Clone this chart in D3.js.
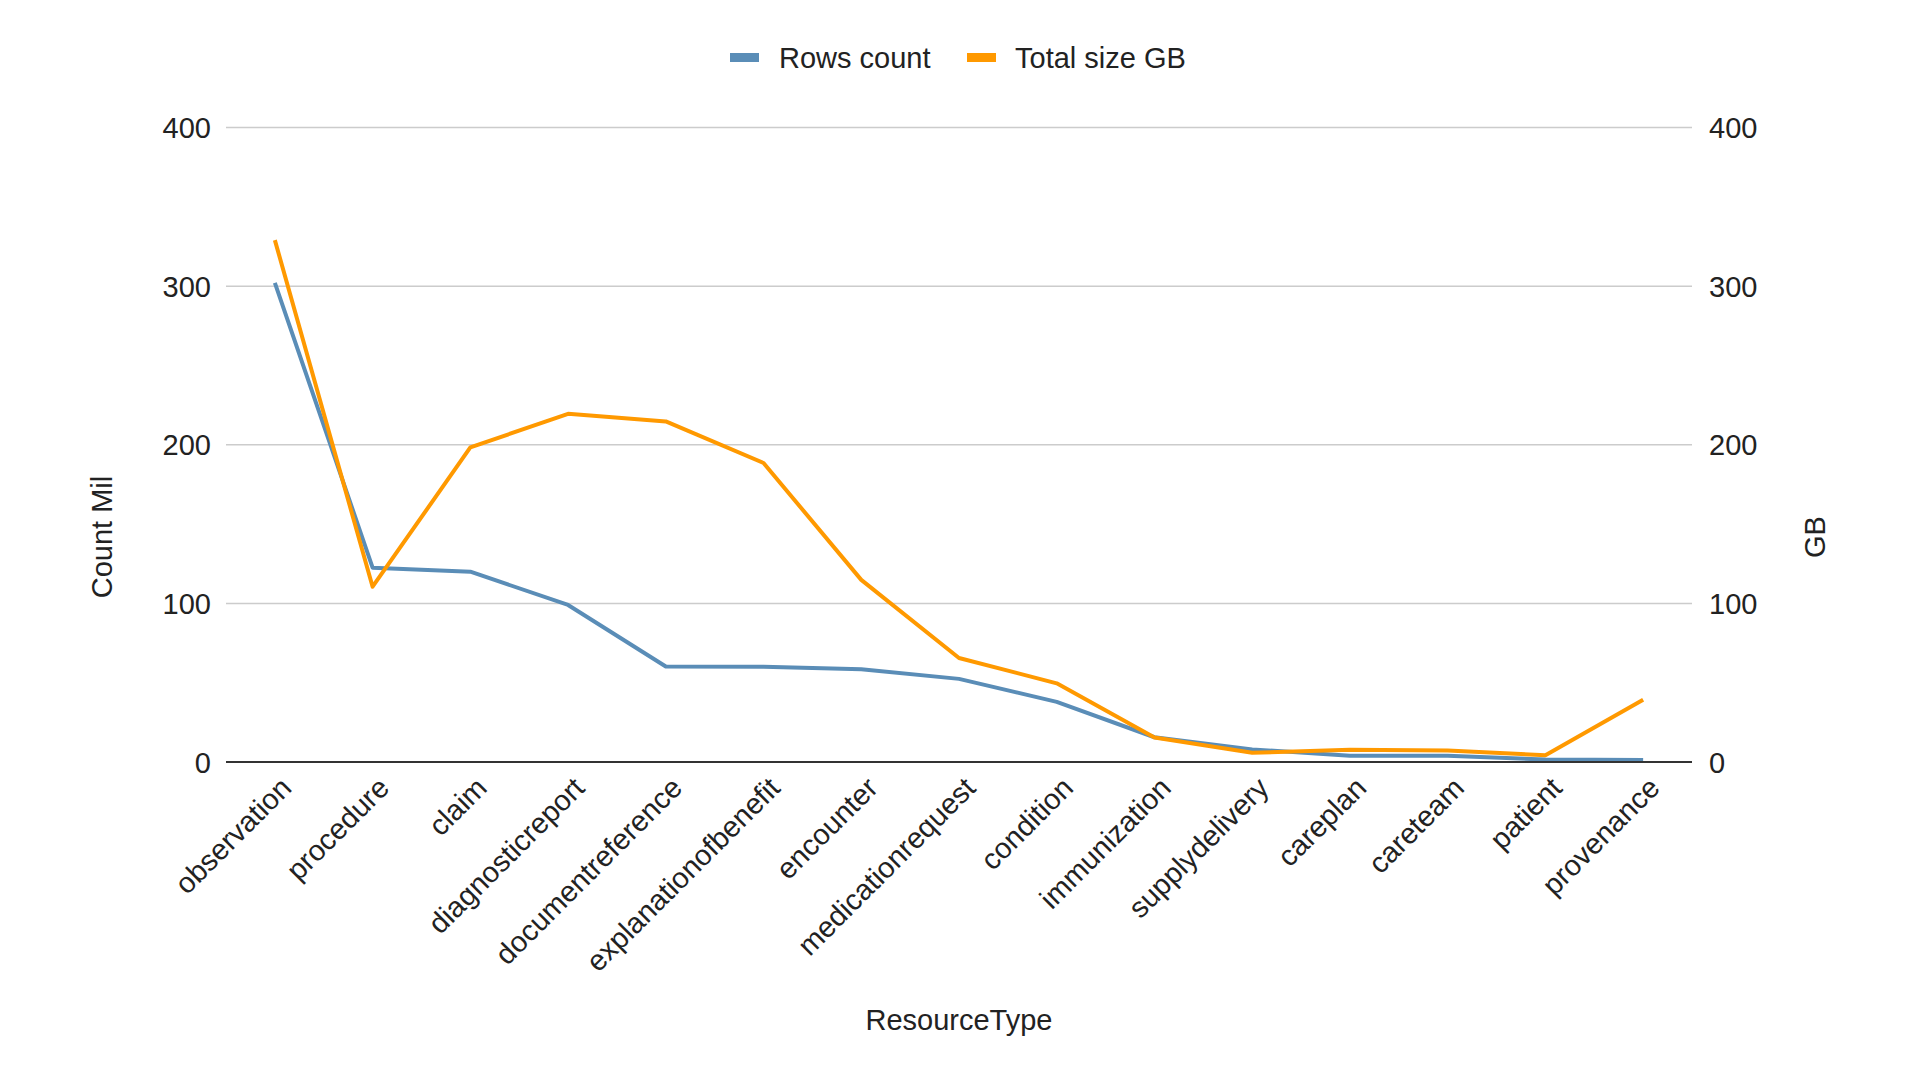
<!DOCTYPE html>
<html>
<head>
<meta charset="utf-8">
<script src="https://cdn.jsdelivr.net/npm/d3@7"></script>
<style>
  html, body { margin: 0; padding: 0; background: #ffffff; }
  svg { display: block; }
  text { font-family: "Liberation Sans", Arial, sans-serif; fill: #222; }
</style>
</head>
<body>
<svg id="chart" width="1920" height="1087"></svg>
<script>
const categories = ["observation","procedure","claim","diagnosticreport","documentreference","explanationofbenefit","encounter","medicationrequest","condition","immunization","supplydelivery","careplan","careteam","patient","provenance"];
const rowsCount = [302, 122.5, 120, 99, 60.2, 60.1, 58.5, 52.4, 37.9, 15.6, 7.9, 4, 3.9, 1.6, 1.2];
const totalSizeGB = [329, 110.5, 198.3, 219.5, 214.7, 188.5, 114.8, 65.6, 49.6, 15.4, 5.8, 7.8, 7.3, 4.2, 39.2];
const yTicks = [0, 100, 200, 300, 400];
const seriesNames = ["Rows count", "Total size GB"];
const seriesColors = ["#5a8db7", "#ff9900"];

(function () {
const svg = d3.select("#chart");
const W = 1920, H = 1087;
const FS = 29;
svg.append("rect").attr("width", W).attr("height", H).attr("fill", "#ffffff");

const mLeft = 226, mRight = 1692, mTop = 127.5, mBottom = 762;
const x = d3.scalePoint().domain(categories).range([mLeft, mRight]).padding(0.5);
const yL = d3.scaleLinear().domain([0, 400]).range([mBottom, mTop]);
const yR = d3.scaleLinear().domain([0, 400]).range([mBottom, mTop]);

// gridlines
svg.append("g").selectAll("line").data(yTicks.filter(t => t !== 0)).join("line")
  .attr("x1", mLeft).attr("x2", mRight)
  .attr("y1", d => yL(d)).attr("y2", d => yL(d))
  .attr("stroke", "#cccccc").attr("stroke-width", 1.5);

// left axis labels
const axL = svg.append("g").attr("transform", `translate(${mLeft - 15},0)`)
  .call(d3.axisLeft(yL).tickValues(yTicks).tickSize(0).tickPadding(0));
axL.select(".domain").remove();
axL.selectAll("text").attr("font-size", FS).attr("fill", "#222").attr("dy", "0.35em")
  .attr("font-family", "Liberation Sans, Arial, sans-serif");

// right axis labels
const axR = svg.append("g").attr("transform", `translate(${mRight + 17},0)`)
  .call(d3.axisRight(yR).tickValues(yTicks).tickSize(0).tickPadding(0));
axR.select(".domain").remove();
axR.selectAll("text").attr("font-size", FS).attr("fill", "#222").attr("dy", "0.35em")
  .attr("font-family", "Liberation Sans, Arial, sans-serif");

// series lines
const series = [rowsCount, totalSizeGB];
const scales = [yL, yR];
series.forEach((vals, i) => {
  const line = d3.line().x((d, j) => x(categories[j])).y(d => scales[i](d));
  svg.append("path").datum(vals).attr("d", line)
    .attr("fill", "none").attr("stroke", seriesColors[i])
    .attr("stroke-width", 4).attr("stroke-linejoin", "round");
});

// baseline
svg.append("line").attr("x1", mLeft).attr("x2", mRight)
  .attr("y1", yL(0)).attr("y2", yL(0))
  .attr("stroke", "#333333").attr("stroke-width", 2);

// x axis labels
const axX = svg.append("g").attr("transform", `translate(0,${mBottom})`)
  .call(d3.axisBottom(x).tickSize(0).tickPadding(0));
axX.select(".domain").remove();
axX.selectAll("text")
  .attr("font-size", FS).attr("fill", "#222")
  .attr("font-family", "Liberation Sans, Arial, sans-serif")
  .attr("text-anchor", "end")
  .attr("dy", null).attr("y", null)
  .attr("transform", "translate(3,13) rotate(-45)")
  .attr("dominant-baseline", "hanging");

// axis titles
svg.append("text").attr("x", (mLeft + mRight) / 2).attr("y", 1030)
  .attr("text-anchor", "middle").attr("font-size", FS).text("ResourceType");
svg.append("text").attr("transform", "translate(112,537) rotate(-90)")
  .attr("text-anchor", "middle").attr("font-size", FS).text("Count Mil");
svg.append("text").attr("transform", "translate(1825,537) rotate(-90)")
  .attr("text-anchor", "middle").attr("font-size", FS).text("GB");

// legend
const legendItems = [
  { name: seriesNames[0], color: seriesColors[0], sx: 730, tx: 779 },
  { name: seriesNames[1], color: seriesColors[1], sx: 967, tx: 1015 }
];
const lg = svg.append("g");
legendItems.forEach(it => {
  lg.append("rect").attr("x", it.sx).attr("y", 53).attr("width", 29).attr("height", 9).attr("fill", it.color);
  lg.append("text").attr("x", it.tx).attr("y", 57.5).attr("dy", "0.35em")
    .attr("font-size", FS).text(it.name);
});
})();
</script>
</body>
</html>
